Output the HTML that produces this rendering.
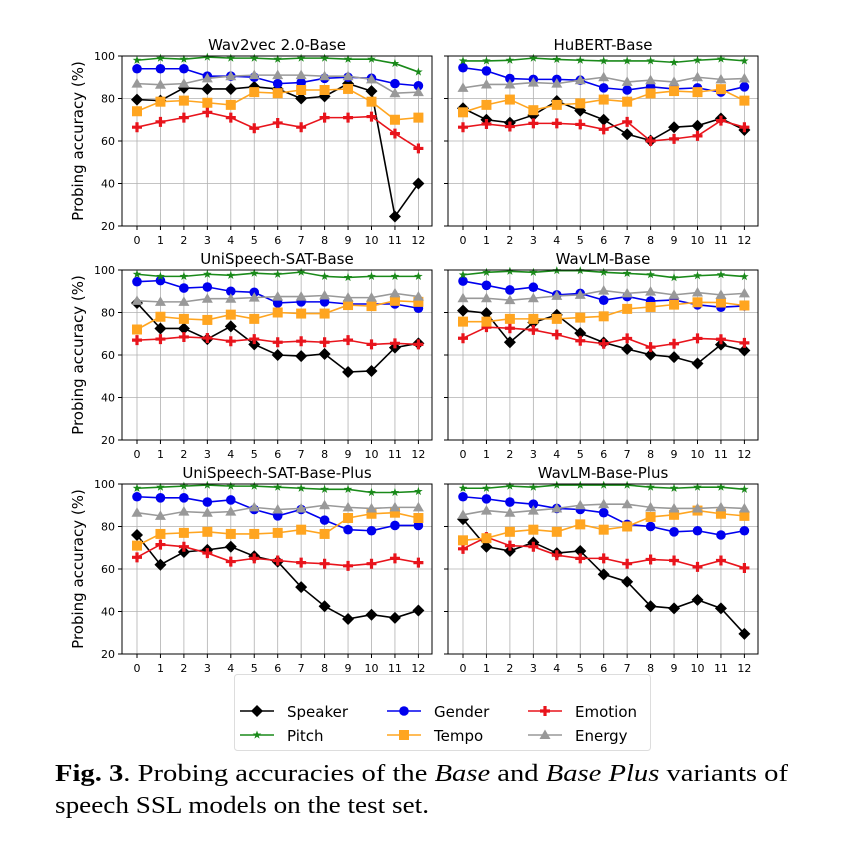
<!DOCTYPE html>
<html><head><meta charset="utf-8"><style>html,body{margin:0;padding:0;background:#fff}svg{display:block}</style></head>
<body>
<svg id="s" width="841" height="848" xmlns="http://www.w3.org/2000/svg" font-family="DejaVu Sans, Liberation Sans, sans-serif"></svg>
<script>
const P=[
{t:"Wav2vec 2.0-Base",x:122,y:56,d:{
sp:[79.5,79,85,84.5,84.5,85.5,84.5,80,81,87,83.5,24.5,40],
ge:[94,94,94,90.5,90.5,90,87,87.5,89.5,90,89.5,87,86],
em:[66.5,69,71,73.5,71,66,68.5,66.5,71,71,71.5,63.5,56.5],
pi:[98,99,98.5,99.5,99,99,98.5,99,99,98.5,98.5,96.5,92.5],
te:[74,78.5,79,78,77,83,82.5,84,84,84.5,78.5,70,71],
en:[87,86.5,87,89.5,90.5,91,91,91,90.5,90.5,89,82.5,83]}},
{t:"HuBERT-Base",x:448,y:56,d:{
sp:[75.4,70,68.6,72.2,78.8,74.3,70,63.2,60.2,66.5,67.2,70.6,65.2],
ge:[94.5,93,89.4,89,89,88.6,85,84,85.5,84.5,85,83,85.5],
em:[66.5,68,66.8,68.3,68.3,67.8,65.5,69,60,61,62.4,69.6,66.5],
pi:[97.7,97.7,98,99,98.4,98,97.7,97.7,97.7,97,98,98.6,97.7],
te:[73.5,77,79.5,74.5,77,77.7,79.5,78.5,82.4,83.5,83,84.4,79],
en:[85,86.6,86.6,87.5,87,88.6,90,87.8,88.6,87.8,90,89,89.4]}},
{t:"UniSpeech-SAT-Base",x:122,y:270,d:{
sp:[84.5,72.5,72.5,67.5,73.5,65,60,59.5,60.5,52,52.5,63.5,65.5],
ge:[94.5,95,91.5,92,90,89.5,84.5,85,85,84,84,84,82],
em:[67,67.5,68.5,68,66.5,67.5,66,66.5,66,67,65,65.5,65],
pi:[98,97,97,98,97.5,98.5,98,99,97,96.5,97,97,97],
te:[72,78,77,76.5,79,77,80,79.5,79.5,83.5,83,85.5,85],
en:[85.5,85,85,86.5,86.5,87,87.5,87.5,88,87,87,89,87.5]}},
{t:"WavLM-Base",x:448,y:270,d:{
sp:[80.9,79.7,66,75.3,78.9,70.3,65.9,62.8,60.1,59,56,64.9,62.1],
ge:[94.8,92.8,90.6,91.9,88.3,89,85.8,87.5,85.4,85.9,83.6,82.5,83.1],
em:[67.9,73.1,72.6,71.8,69.6,66.7,65.3,67.8,63.7,65.3,67.8,67.4,65.7],
pi:[97.7,98.9,99.4,98.9,99.7,99.7,98.9,98.4,97.8,96.4,97.3,97.8,96.9],
te:[75.7,75.7,77,77,77,77.6,78.2,81.7,82.6,83.7,84.8,84.7,83.3],
en:[86.7,86.7,85.8,86.7,87.8,88.3,90.3,89,89.8,88.3,89.4,88.3,89]}},
{t:"UniSpeech-SAT-Base-Plus",x:122,y:484,d:{
sp:[76,62,68,69,70.5,66,63.5,51.5,42.5,36.5,38.5,37,40.5],
ge:[94,93.5,93.5,91.5,92.5,88,85,88,83,78.5,78,80.5,80.5],
em:[65.5,71.5,70.5,67.5,63.5,65,64,63,62.5,61.5,62.5,65,63],
pi:[98,98.5,99,99.5,99,99,98.5,98,97.5,97.5,96,96,96.5],
te:[71,76.5,77,77.5,76.5,76.5,77,78.5,76.5,84,86,86.5,84],
en:[86.5,85,87,86.5,87,89,88,88.5,90,89,88.5,89,89]}},
{t:"WavLM-Base-Plus",x:448,y:484,d:{
sp:[83.5,70.5,68.5,72.5,67.5,68.5,57.5,54,42.5,41.5,45.5,41.5,29.5],
ge:[94,93,91.5,90.5,88.5,88,86.5,81,80,77.5,78,76,78],
em:[69.5,75,71,70.5,66.5,65,65,62.5,64.5,64,61,64,60.5],
pi:[98,98,99,98.5,99.5,99.5,99.5,99.5,98.5,98,98.5,98.5,97.5],
te:[73.5,74.5,77.5,78.5,77.5,81,78.5,80,84.5,85.5,87.5,86,85],
en:[85.5,87.5,86.5,87.5,88.5,90,90.5,90.5,89,88.5,88.5,89,88.5]}}];
const C={sp:"#000",ge:"#0000ee",em:"#e8141c",pi:"#1a8a1a",te:"#ffa520",en:"#999"};
const W=310,H=170,x0=15,dx=23.45;
function mk(k,x,y,c){
 if(k=="sp")return `<path d="M${x} ${y-6}L${x+6} ${y}L${x} ${y+6}L${x-6} ${y}Z" fill="${c}"/>`;
 if(k=="ge")return `<circle cx="${x}" cy="${y}" r="4.8" fill="${c}"/>`;
 if(k=="te")return `<rect x="${x-5}" y="${y-5}" width="10" height="10" fill="${c}"/>`;
 if(k=="en")return `<path d="M${x} ${y-5.5}L${x+5.5} ${y+4}L${x-5.5} ${y+4}Z" fill="${c}"/>`;
 if(k=="em")return `<path d="M${x-1.6} ${y-5}h3.2v3.4h3.4v3.2h-3.4v3.4h-3.2v-3.4h-3.4v-3.2h3.4Z" fill="${c}"/>`;
 let s="";for(let i=0;i<10;i++){const r=i%2?1.8:4.5,a=-Math.PI/2+i*Math.PI/5;s+=(i?"L":"M")+(x+r*Math.cos(a)).toFixed(1)+" "+(y+r*Math.sin(a)).toFixed(1);}
 return `<path d="${s}Z" fill="${c}"/>`;}
let o="";
P.forEach((p,pi)=>{
 const X=i=>p.x+x0+i*dx,Y=v=>p.y+H-(v-20)*H/80;
 for(let i=0;i<13;i++)o+=`<line x1="${X(i)}" y1="${p.y}" x2="${X(i)}" y2="${p.y+H}" stroke="#b0b0b0" stroke-width="0.8"/>`;
 for(let v=20;v<=100;v+=20)o+=`<line x1="${p.x}" y1="${Y(v)}" x2="${p.x+W}" y2="${Y(v)}" stroke="#b0b0b0" stroke-width="0.8"/>`;
 for(const k of ["sp","ge","em","pi","te","en"]){
  const d=p.d[k];o+=`<polyline fill="none" stroke="${C[k]}" stroke-width="1.6" points="${d.map((v,i)=>X(i)+","+Y(v)).join(" ")}"/>`;
  d.forEach((v,i)=>o+=mk(k,X(i),Y(v),C[k]));}
 o+=`<rect x="${p.x}" y="${p.y}" width="${W}" height="${H}" fill="none" stroke="#000" stroke-width="1"/>`;
 o+=`<text x="${p.x+W/2}" y="${p.y-6}" font-size="15" text-anchor="middle">${p.t}</text>`;
 for(let i=0;i<13;i++){o+=`<line x1="${X(i)}" y1="${p.y+H}" x2="${X(i)}" y2="${p.y+H+4}" stroke="#000"/><text x="${X(i)}" y="${p.y+H+18}" font-size="11" text-anchor="middle">${i}</text>`;}
 for(let v=20;v<=100;v+=20){o+=`<line x1="${p.x-4}" y1="${Y(v)}" x2="${p.x}" y2="${Y(v)}" stroke="#000"/>`;
  if(pi%2==0)o+=`<text x="${p.x-7}" y="${Y(v)+4}" font-size="11" text-anchor="end">${v}</text>`;}
 if(pi%2==0)o+=`<text transform="translate(${p.x-39},${p.y+H/2}) rotate(-90)" font-size="15" text-anchor="middle">Probing accuracy (%)</text>`;
});
o+=`<text x="277" y="690" font-size="15" text-anchor="middle">Layer</text><text x="603" y="690" font-size="15" text-anchor="middle">Layer</text>`;
o+=`<rect x="234.5" y="674.5" width="416" height="76" rx="3" fill="#fff" stroke="#ddd"/>`;
const L=[["sp","Speaker",240,711],["ge","Gender",387,711],["em","Emotion",528,711],["pi","Pitch",240,735],["te","Tempo",387,735],["en","Energy",528,735]];
L.forEach(([k,t,x,y])=>{o+=`<line x1="${x}" y1="${y}" x2="${x+34}" y2="${y}" stroke="${C[k]}" stroke-width="1.6"/>`+mk(k,x+17,y,C[k])+`<text x="${x+47}" y="${y+6}" font-size="15">${t}</text>`;});
o+=`<text x="55" y="781" font-size="24" font-family="Liberation Serif, serif" textLength="733" lengthAdjust="spacingAndGlyphs"><tspan font-weight="bold">Fig. 3</tspan>.  Probing accuracies of the <tspan font-style="italic">Base</tspan> and <tspan font-style="italic">Base Plus</tspan> variants of</text>`;
o+=`<text x="55" y="813" font-size="24" font-family="Liberation Serif, serif" textLength="374" lengthAdjust="spacingAndGlyphs">speech SSL models on the test set.</text>`;
document.getElementById("s").innerHTML=o;
</script>
</body></html>
